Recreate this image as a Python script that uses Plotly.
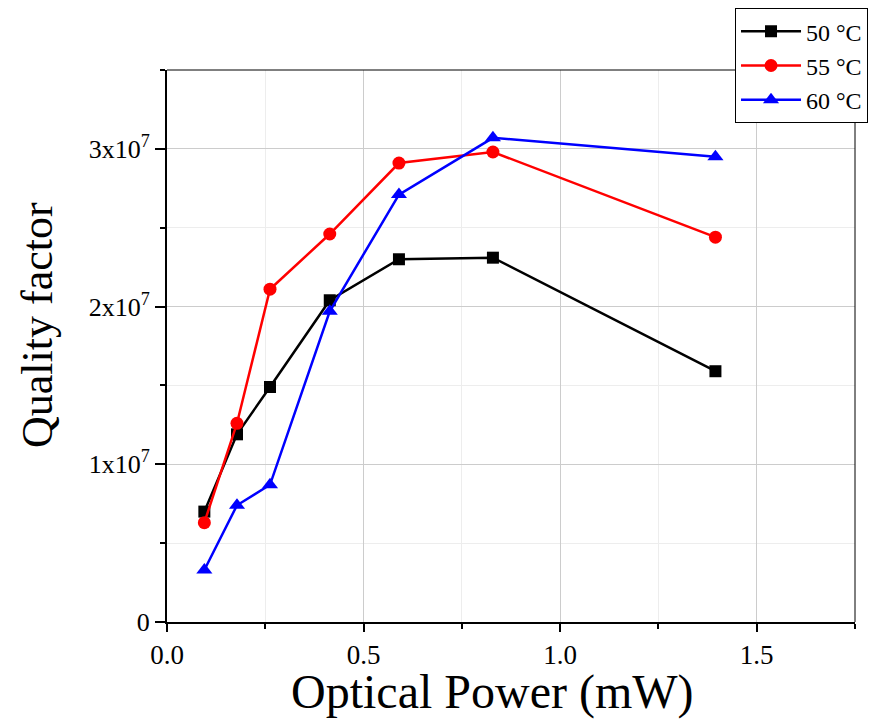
import plotly.graph_objects as go

power_mw = [0.095, 0.178, 0.262, 0.414, 0.590, 0.829, 1.395]
q_50c = [7.0e6, 11.9e6, 14.9e6, 20.4e6, 23.0e6, 23.1e6, 15.9e6]
q_55c = [6.3e6, 12.6e6, 21.1e6, 24.6e6, 29.1e6, 29.8e6, 24.4e6]
q_60c = [3.3e6, 7.4e6, 8.7e6, 19.7e6, 27.1e6, 30.7e6, 29.5e6]

series_names = ["50 °C", "55 °C", "60 °C"]
y_tick_vals = [0, 1e7, 2e7, 3e7]
y_tick_text = ["0", "1x10<sup>7</sup>", "2x10<sup>7</sup>", "3x10<sup>7</sup>"]
x_tick_vals = [0.0, 0.5, 1.0, 1.5]
x_tick_text = ["0.0", "0.5", "1.0", "1.5"]
x_title = "Optical Power (mW)"
y_title = "Quality factor"

font_family = "Liberation Serif, Times New Roman, serif"

fig = go.Figure()
specs = [
    (q_50c, series_names[0], "#000000", "square", 12),
    (q_55c, series_names[1], "#ff0000", "circle", 13),
    (q_60c, series_names[2], "#0000ff", "triangle-up", 14),
]
for vals, name, color, sym, msize in specs:
    fig.add_trace(go.Scatter(
        x=power_mw, y=vals, name=name, mode="lines+markers",
        line=dict(color=color, width=2.5),
        marker=dict(color=color, symbol=sym, size=msize),
    ))

fig.update_layout(
    width=893, height=719,
    margin=dict(l=159, r=46, t=62, b=105, autoexpand=False),
    paper_bgcolor="white", plot_bgcolor="white",
    font=dict(family=font_family, color="black"),
    legend=dict(
        x=0.8256, y=1.112, xanchor="left", yanchor="top",
        bordercolor="black", borderwidth=1, bgcolor="white",
        font=dict(size=24, family=font_family),
        itemwidth=60,
    ),
    showlegend=True,
)

fig.update_xaxes(
    range=[0, 1.75], tickvals=x_tick_vals, ticktext=x_tick_text,
    ticks="outside", ticklen=8, tickwidth=1.5, tickcolor="black",
    showline=True, linecolor="black", linewidth=2,
    showgrid=True, gridcolor="#cccccc", gridwidth=1,
    zeroline=False, automargin=False,
    tickfont=dict(size=27, family=font_family),
    minor=dict(dtick=0.25, tick0=0, ticks="outside", ticklen=5, tickcolor="black",
               showgrid=True, gridcolor="#ededed"),
)
fig.update_yaxes(
    range=[0, 3.5e7], tickvals=y_tick_vals, ticktext=y_tick_text,
    ticks="outside", ticklen=10, tickwidth=1.5, tickcolor="black",
    showline=True, linecolor="black", linewidth=2,
    showgrid=True, gridcolor="#cccccc", gridwidth=1,
    zeroline=False, automargin=False,
    tickfont=dict(size=26, family=font_family),
    minor=dict(dtick=5e6, tick0=0, ticks="outside", ticklen=5, tickcolor="black",
               showgrid=True, gridcolor="#ededed"),
)

fig.add_annotation(text=x_title, xref="paper", yref="paper", x=0.4724, y=-0.126,
                   xanchor="center", yanchor="middle", showarrow=False,
                   font=dict(size=48, family=font_family, color="black"))
fig.add_annotation(text=y_title, xref="paper", yref="paper", x=-0.189, y=0.538,
                   xanchor="center", yanchor="middle", showarrow=False, textangle=-90,
                   font=dict(size=44, family=font_family, color="black"))

fig.add_shape(type="line", xref="paper", yref="paper", x0=0, x1=1, y0=1, y1=1,
              line=dict(color="black", width=1))
fig.add_shape(type="line", xref="paper", yref="paper", x0=1, x1=1, y0=0, y1=1,
              line=dict(color="black", width=1))

fig.write_html("out.html")
